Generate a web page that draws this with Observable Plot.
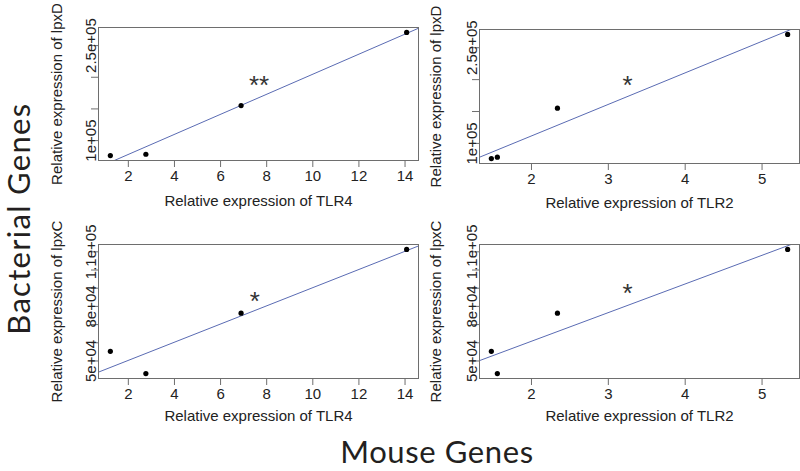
<!DOCTYPE html>
<html><head><meta charset="utf-8">
<script src="https://cdn.jsdelivr.net/npm/d3@7"></script>
<script src="https://cdn.jsdelivr.net/npm/@observablehq/plot@0.6"></script>
<style>
body{margin:0;background:#fff;}
#wrap{position:relative;width:800px;height:471px;overflow:hidden;background:#fff;}
.panel{position:absolute;}
.big{position:absolute;color:#231f20;font-family:Lato,"Open Sans",sans-serif;line-height:1.2;text-align:center;white-space:nowrap;}
</style></head><body>
<div id="wrap"></div>
<script>
// Sample values (4 samples)
const TLR4 = [1.22, 2.76, 6.89, 14.07];
const TLR2 = [1.478, 1.556, 2.338, 5.333];
const lpxD = [76300, 78400, 155300, 270800];
const lpxC = [55300, 43100, 76300, 111300];

// Axis ticks and labels
const TLR4Ticks = [2, 4, 6, 8, 10, 12, 14];
const TLR2Ticks = [2, 3, 4, 5];
const lpxDTicks = [100000, 150000, 200000, 250000];
const lpxDTickLabels = ["1e+05", "", "", "2.5e+05"];
const lpxCTicks = [50000, 60000, 70000, 80000, 90000, 100000, 110000];
const lpxCTickLabels = ["5e+04", "", "", "8e+04", "", "", "1.1e+05"];

// Significance annotations (panel order: lpxD~TLR4, lpxD~TLR2, lpxC~TLR4, lpxC~TLR2)
const sigText = ["**", "*", "*", "*"];
const sigX = [7.67, 3.25, 7.48, 3.25];
const sigY = [196000, 200600, 86100, 90100];

const xTitles = ["Relative expression of TLR4", "Relative expression of TLR2"];
const yTitles = ["Relative expression of lpxD", "Relative expression of lpxC"];

const wrap = document.getElementById("wrap");

function rdomain(v) { const [a, b] = d3.extent(v); const p = (b - a) * 0.04; return [a - p, b + p]; }
function fit(xs, ys) {
  const mx = d3.mean(xs), my = d3.mean(ys);
  let sxy = 0, sxx = 0;
  xs.forEach((x, i) => { sxy += (x - mx) * (ys[i] - my); sxx += (x - mx) ** 2; });
  const m = sxy / sxx; return { m, b: my - m * mx };
}

const panels = [
  { xs: TLR4, ys: lpxD, xt: TLR4Ticks, yt: lpxDTicks, yl: lpxDTickLabels, xTitle: xTitles[0], yTitle: yTitles[0], k: 0,
    left: 0, top: 0, width: 425, height: 215, mL: 98, mT: 27, mR: 7, mB: 55, xlo: 45, ylo: 47 },
  { xs: TLR2, ys: lpxD, xt: TLR2Ticks, yt: lpxDTicks, yl: lpxDTickLabels, xTitle: xTitles[1], yTitle: yTitles[0], k: 1,
    left: 400, top: 0, width: 400, height: 215, mL: 79, mT: 29, mR: 1, mB: 52, xlo: 44, ylo: 49 },
  { xs: TLR4, ys: lpxC, xt: TLR4Ticks, yt: lpxCTicks, yl: lpxCTickLabels, xTitle: xTitles[0], yTitle: yTitles[1], k: 2,
    left: 0, top: 220, width: 425, height: 200, mL: 98, mT: 24, mR: 7, mB: 42, xlo: 42, ylo: 47 },
  { xs: TLR2, ys: lpxC, xt: TLR2Ticks, yt: lpxCTicks, yl: lpxCTickLabels, xTitle: xTitles[1], yTitle: yTitles[1], k: 3,
    left: 400, top: 220, width: 400, height: 200, mL: 79, mT: 24, mR: 1, mB: 42, xlo: 42, ylo: 49 }
];

for (const p of panels) {
  const xd = rdomain(p.xs), yd = rdomain(p.ys);
  const { m, b } = fit(p.xs, p.ys);
  const lineData = xd.map(x => ({ x, y: m * x + b }));
  const pts = p.xs.map((x, i) => ({ x, y: p.ys[i] }));
  const ann = [{ x: sigX[p.k], y: sigY[p.k], t: sigText[p.k] }];
  const chart = Plot.plot({
    width: p.width, height: p.height,
    marginLeft: p.mL, marginTop: p.mT, marginRight: p.mR, marginBottom: p.mB,
    style: { fontFamily: "'Liberation Sans', Arial, sans-serif", fontSize: "15px", background: "transparent", overflow: "visible", color: "#222" },
    x: { domain: xd }, y: { domain: yd },
    marks: [
      Plot.line(lineData, { x: "x", y: "y", stroke: "#5a6bb3", strokeWidth: 1, clip: true }),
      Plot.frame({ stroke: "#6e6e6e", strokeWidth: 1 }),
      Plot.dot(pts, { x: "x", y: "y", r: 2.6, fill: "#000", stroke: "none" }),
      Plot.text(ann, { x: "x", y: "y", text: "t", fontSize: 26, fill: "#333", dy: 6 }),
      Plot.axisX({ ticks: p.xt, tickFormat: d => String(d), tickSize: 7, tickPadding: 3, stroke: "#6e6e6e", fill: "#222", fontSize: 15,
        label: p.xTitle, labelAnchor: "center", labelOffset: p.xlo, labelArrow: "none" }),
      Plot.axisY({ ticks: p.yt, tickFormat: d => p.yl[p.yt.indexOf(d)], tickRotate: -90, tickSize: 7, tickPadding: -4, fontSize: 15,
        stroke: "#6e6e6e", fill: "#222", label: p.yTitle, labelAnchor: "center", labelOffset: p.ylo, labelArrow: "none" })
    ]
  });
  chart.classList.add("panel");
  chart.style.left = p.left + "px";
  chart.style.top = p.top + "px";
  chart.style.position = "absolute";
  wrap.appendChild(chart);
}

function bigLabel(text, cx, cy, w, size, spacing, rot) {
  const d = document.createElement("div");
  d.className = "big";
  d.textContent = text;
  const h = size * 1.2;
  d.style.fontSize = size + "px";
  d.style.letterSpacing = spacing + "px";
  d.style.width = w + "px";
  d.style.height = h + "px";
  d.style.left = (cx - w / 2) + "px";
  d.style.top = (cy - h / 2) + "px";
  if (rot) d.style.transform = "rotate(-90deg)";
  wrap.appendChild(d);
}
bigLabel("Bacterial Genes", 18.6, 219, 270, 31, 1.3, true);
bigLabel("Mouse Genes", 437, 451.6, 240, 31, 0.6, false);
</script>
</body></html>
